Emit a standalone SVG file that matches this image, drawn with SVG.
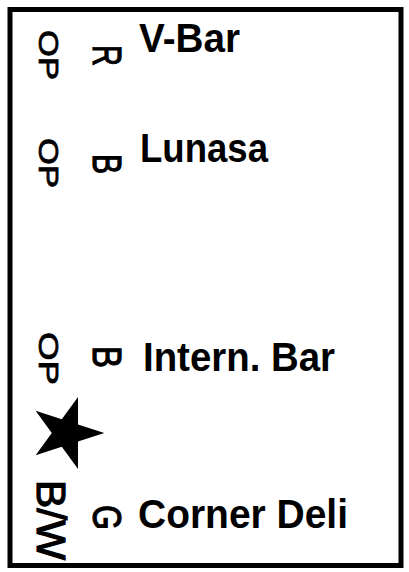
<svg xmlns="http://www.w3.org/2000/svg" width="409" height="572" viewBox="0 0 409 572">
<style>
.lbl{font-family:"Liberation Sans",Arial,sans-serif;font-weight:bold;font-size:41px;fill:#000}
.op{font-family:"Liberation Sans",Arial,sans-serif;font-size:27px;fill:#000;stroke:#000;stroke-width:0.8}
.code{font-family:"Liberation Sans",Arial,sans-serif;font-size:41px;fill:#000;stroke:#000;stroke-width:1.2}
</style>
<rect x="0" y="0" width="409" height="572" fill="#fff"/>
<rect x="10" y="9.5" width="391" height="556" fill="none" stroke="#000" stroke-width="5"/>
<g id="vbar">
<text class="op" transform="translate(39,30) rotate(90)" textLength="50" lengthAdjust="spacingAndGlyphs">OP</text>
<text class="code" transform="translate(93,45) rotate(90)" textLength="21" lengthAdjust="spacingAndGlyphs">R</text>
<text class="lbl" x="139" y="52" textLength="101" lengthAdjust="spacingAndGlyphs">V-Bar</text>
</g>
<g id="lunasa">
<text class="op" transform="translate(39,138) rotate(90)" textLength="50" lengthAdjust="spacingAndGlyphs">OP</text>
<text class="code" transform="translate(93,154) rotate(90)" textLength="20" lengthAdjust="spacingAndGlyphs">B</text>
<text class="lbl" x="140" y="162" textLength="128" lengthAdjust="spacingAndGlyphs">Lunasa</text>
</g>
<g id="intern-bar">
<text class="op" transform="translate(39,332) rotate(90)" textLength="53" lengthAdjust="spacingAndGlyphs">OP</text>
<text class="code" transform="translate(93,346) rotate(90)" textLength="22" lengthAdjust="spacingAndGlyphs">B</text>
<text class="lbl" x="143" y="371" textLength="192" lengthAdjust="spacingAndGlyphs">Intern. Bar</text>
</g>
<g id="star">
<polygon points="104.3,433 78,441.5 78,469.1 61.8,446.8 35.6,455.3 51.8,433 35.6,410.7 61.8,419.2 78,396.9 78,424.5" fill="#000"/>
</g>
<g id="corner-deli">
<text class="code" transform="translate(37,480) rotate(90)" textLength="80" lengthAdjust="spacingAndGlyphs">B/W</text>
<text class="code" transform="translate(93,505) rotate(90)" textLength="25" lengthAdjust="spacingAndGlyphs">G</text>
<text class="lbl" x="138" y="528" textLength="210" lengthAdjust="spacingAndGlyphs">Corner Deli</text>
</g>
<g id="connectors"></g>
</svg>
